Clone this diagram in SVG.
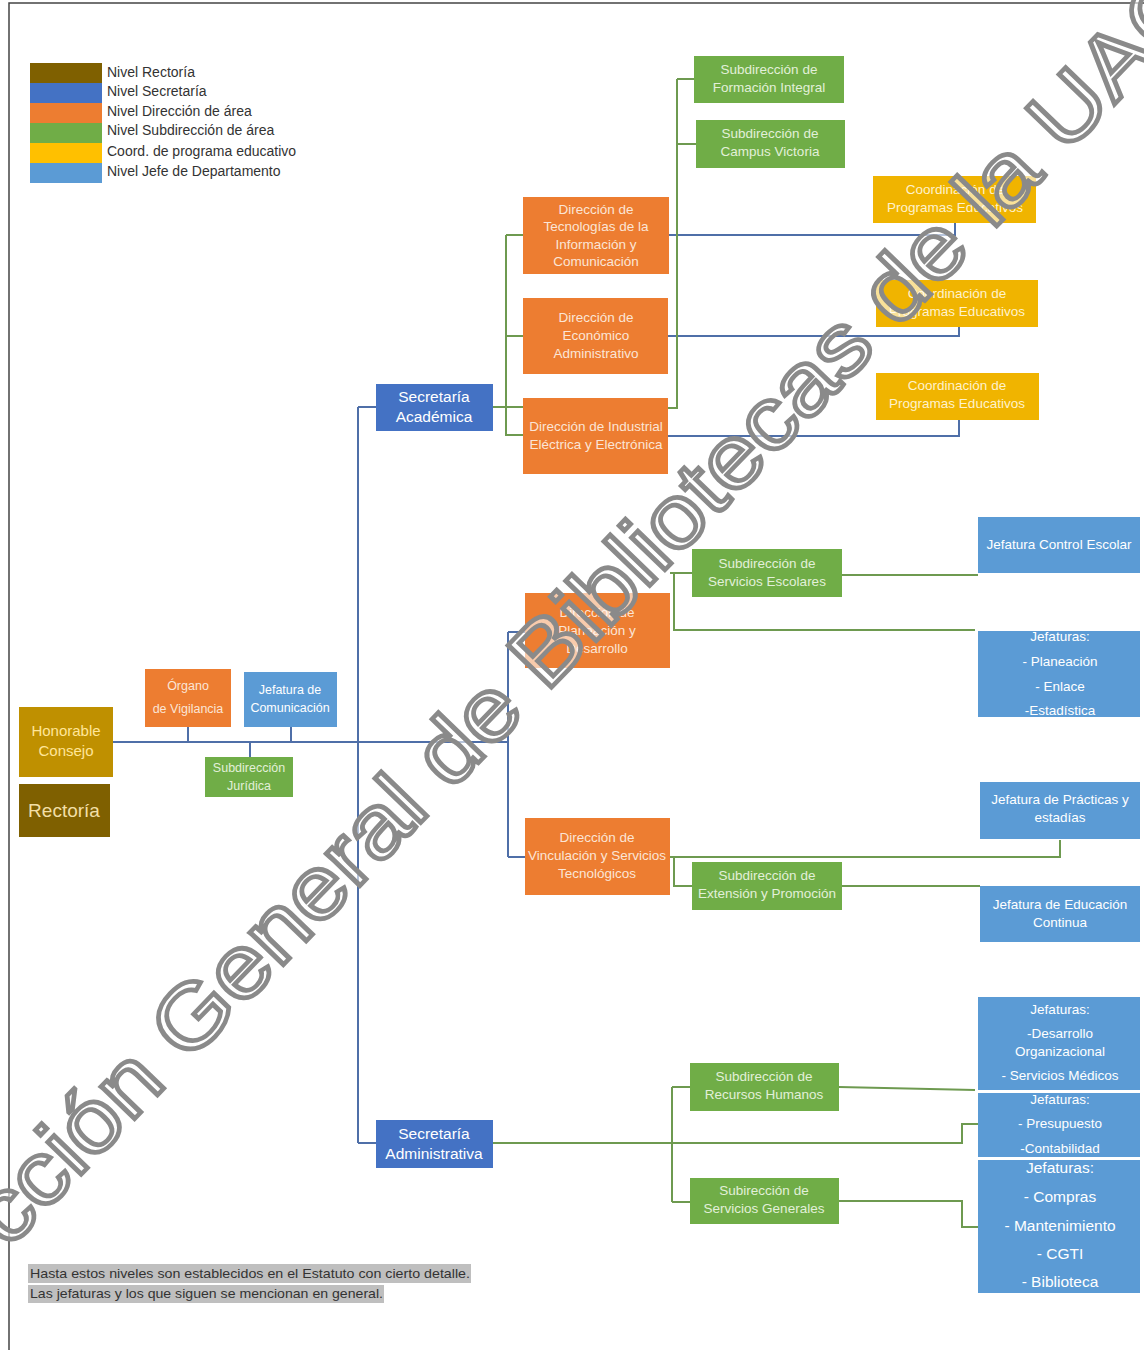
<svg xmlns="http://www.w3.org/2000/svg" width="1144" height="1350" viewBox="0 0 1144 1350">
<style>
text{font-family:"Liberation Sans",Arial,sans-serif;text-anchor:middle}
.t{font-size:13.5px}
.lg{font-size:14px;fill:#333;text-anchor:start}
.nt{font-size:13.5px;fill:#333;text-anchor:start}
.wd{fill:#FBE5D6}
.wg{fill:#E2F0D9}
.wy{fill:#FFF2CC}
.wb{fill:#FFFFFF}
.bl{fill:none;stroke:#4F6FA8;stroke-width:2}
.gl{fill:none;stroke:#6E9A50;stroke-width:2}
.dir{fill:#ED7D31}
.sub{fill:#70AD47}
.coo{fill:#F0B400}
.jef{fill:#5B9BD5}
.sec{fill:#4472C4}
</style>
<rect x="0" y="0" width="1144" height="1350" fill="#fff"/>
<path d="M9,1350 V3 H1144" fill="none" stroke="#444" stroke-width="1.5"/>

<g id="legend">
<rect x="30" y="63" width="72" height="20" fill="#7F6000"/>
<rect x="30" y="83" width="72" height="20" fill="#4472C4"/>
<rect x="30" y="103" width="72" height="20" fill="#ED7D31"/>
<rect x="30" y="123" width="72" height="20" fill="#70AD47"/>
<rect x="30" y="143" width="72" height="20" fill="#FFC000"/>
<rect x="30" y="163" width="72" height="20" fill="#5B9BD5"/>
<text class="lg" x="107" y="77">Nivel Rectoría</text>
<text class="lg" x="107" y="96">Nivel Secretaría</text>
<text class="lg" x="107" y="116">Nivel Dirección de área</text>
<text class="lg" x="107" y="135">Nivel Subdirección de área</text>
<text class="lg" x="107" y="156">Coord. de programa educativo</text>
<text class="lg" x="107" y="176">Nivel Jefe de Departamento</text>
</g>

<g id="connectors">
<path class="bl" d="M113,742 H508 M188,727 V742 M291,727 V742 M250,742 V757"/>
<path class="bl" d="M358,407 V1143 M358,407 H376 M358,1143 H376"/>
<path class="bl" d="M508,632 V857 M508,632 H525 M508,857 H525"/>
<path class="bl" d="M669,235 H955 V223 M668,336 H959 V327 M668,436 H959 V420"/>
<path class="gl" d="M506,235 V435 H523 M506,235 H523 M506,336 H523 M493,407 H523"/>
<path class="gl" d="M677,79 V408 H668 M677,79 H694 M677,144 H696"/>
<path class="gl" d="M670,573 H674 V630 H975 M674,573 H692 M842,575 H978"/>
<path class="gl" d="M670,857 H1060 V840 M674,857 V886 H692 M842,886 H980"/>
<path class="gl" d="M493,1143 H962 V1124 H978"/>
<path class="gl" d="M672,1087 V1202 M672,1087 H690 M672,1202 H690 M839,1087 L975,1090 M839,1201 H962 V1227 H978"/>
</g>

<g id="honorable-consejo"><rect x="19" y="707" width="94" height="70" fill="#BF9000"/>
<text x="66" y="736" font-size="15" fill="#FFE699">Honorable</text><text x="66" y="756" font-size="15" fill="#FFE699">Consejo</text></g>
<g id="rectoria"><rect x="19" y="784" width="91" height="53" fill="#7F6000"/>
<text x="64" y="817" font-size="19" fill="#F2DFA7">Rectoría</text></g>
<g id="organo-vigilancia"><rect class="dir" x="145" y="669" width="86" height="58"/>
<text class="wd" font-size="12.5" x="188" y="690">Órgano</text><text class="wd" font-size="12.5" x="188" y="713">de Vigilancia</text></g>
<g id="jefatura-comunicacion"><rect class="jef" x="244" y="672" width="93" height="55"/>
<text class="wb" font-size="12.5" x="290" y="694">Jefatura de</text><text class="wb" font-size="12.5" x="290" y="712">Comunicación</text></g>
<g id="subdireccion-juridica"><rect class="sub" x="205" y="757" width="88" height="40"/>
<text class="wg" font-size="12.5" x="249" y="772">Subdirección</text><text class="wg" font-size="12.5" x="249" y="790">Jurídica</text></g>

<g id="secretaria-academica"><rect class="sec" x="376" y="384" width="117" height="47"/>
<text x="434" y="402" font-size="15.5" fill="#fff">Secretaría</text><text x="434" y="422" font-size="15.5" fill="#fff">Académica</text></g>
<g id="secretaria-administrativa"><rect class="sec" x="376" y="1120" width="117" height="48"/>
<text x="434" y="1139" font-size="15.5" fill="#fff">Secretaría</text><text x="434" y="1159" font-size="15.5" fill="#fff">Administrativa</text></g>

<g id="direccion-tic"><rect class="dir" x="523" y="197" width="146" height="77"/>
<text class="t wd" x="596" y="214">Dirección de</text><text class="t wd" x="596" y="231">Tecnologías de la</text><text class="t wd" x="596" y="249">Información y</text><text class="t wd" x="596" y="266">Comunicación</text></g>
<g id="direccion-economico"><rect class="dir" x="523" y="298" width="145" height="76"/>
<text class="t wd" x="596" y="322">Dirección de</text><text class="t wd" x="596" y="340">Económico</text><text class="t wd" x="596" y="358">Administrativo</text></g>
<g id="direccion-industrial"><rect class="dir" x="523" y="398" width="145" height="76"/>
<text class="t wd" x="596" y="431">Dirección de Industrial</text><text class="t wd" x="596" y="449">Eléctrica y Electrónica</text></g>

<g id="sub-formacion"><rect class="sub" x="694" y="56" width="150" height="47"/>
<text class="t wg" x="769" y="74">Subdirección de</text><text class="t wg" x="769" y="92">Formación Integral</text></g>
<g id="sub-campus"><rect class="sub" x="696" y="120" width="149" height="48"/>
<text class="t wg" x="770" y="138">Subdirección de</text><text class="t wg" x="770" y="156">Campus Victoria</text></g>

<g id="coord-1"><rect class="coo" x="873" y="176" width="163" height="47"/>
<text class="t wy" x="955" y="194">Coordinación de</text><text class="t wy" x="955" y="212">Programas Educativos</text></g>
<g id="coord-2"><rect class="coo" x="876" y="280" width="162" height="47"/>
<text class="t wy" x="957" y="298">Coordinación de</text><text class="t wy" x="957" y="316">Programas Educativos</text></g>
<g id="coord-3"><rect class="coo" x="876" y="373" width="163" height="47"/>
<text class="t wy" x="957" y="390">Coordinación de</text><text class="t wy" x="957" y="408">Programas Educativos</text></g>

<g id="direccion-planeacion"><rect class="dir" x="525" y="593" width="145" height="75"/>
<text class="t wd" x="597" y="617">Dirección de</text><text class="t wd" x="597" y="635">Planeación y</text><text class="t wd" x="597" y="653">Desarrollo</text></g>
<g id="sub-servicios-escolares"><rect class="sub" x="692" y="549" width="150" height="48"/>
<text class="t wg" x="767" y="568">Subdirección de</text><text class="t wg" x="767" y="586">Servicios Escolares</text></g>
<g id="jef-control-escolar"><rect class="jef" x="978" y="517" width="162" height="56"/>
<text class="t wb" x="1059" y="549">Jefatura Control Escolar</text></g>
<g id="jef-planeacion"><rect class="jef" x="978" y="631" width="162" height="86"/>
<text class="t wb" x="1060" y="641">Jefaturas:</text><text class="t wb" x="1060" y="666">- Planeación</text><text class="t wb" x="1060" y="691">- Enlace</text><text class="t wb" x="1060" y="715">-Estadística</text></g>

<g id="direccion-vinculacion"><rect class="dir" x="525" y="818" width="145" height="77"/>
<text class="t wd" x="597" y="842">Dirección de</text><text class="t wd" x="597" y="860">Vinculación y Servicios</text><text class="t wd" x="597" y="878">Tecnológicos</text></g>
<g id="sub-extension"><rect class="sub" x="692" y="862" width="150" height="48"/>
<text class="t wg" x="767" y="880">Subdirección de</text><text class="t wg" x="767" y="898">Extensión y Promoción</text></g>
<g id="jef-practicas"><rect class="jef" x="980" y="782" width="160" height="57"/>
<text class="t wb" x="1060" y="804">Jefatura de Prácticas y</text><text class="t wb" x="1060" y="822">estadías</text></g>
<g id="jef-educacion-continua"><rect class="jef" x="980" y="886" width="160" height="56"/>
<text class="t wb" x="1060" y="909">Jefatura de Educación</text><text class="t wb" x="1060" y="927">Continua</text></g>

<g id="sub-recursos-humanos"><rect class="sub" x="690" y="1063" width="149" height="48"/>
<text class="t wg" x="764" y="1081">Subdirección de</text><text class="t wg" x="764" y="1099">Recursos Humanos</text></g>
<g id="sub-servicios-generales"><rect class="sub" x="690" y="1178" width="149" height="46"/>
<text class="t wg" x="764" y="1195">Subirección de</text><text class="t wg" x="764" y="1213">Servicios Generales</text></g>
<g id="jef-desarrollo"><rect class="jef" x="978" y="997" width="162" height="93"/>
<text class="t wb" x="1060" y="1014">Jefaturas:</text><text class="t wb" x="1060" y="1038">-Desarrollo</text><text class="t wb" x="1060" y="1056">Organizacional</text><text class="t wb" x="1060" y="1080">- Servicios Médicos</text></g>
<g id="jef-presupuesto"><rect class="jef" x="978" y="1093" width="162" height="64"/>
<text class="t wb" x="1060" y="1104">Jefaturas:</text><text class="t wb" x="1060" y="1128">- Presupuesto</text><text class="t wb" x="1060" y="1153">-Contabilidad</text></g>
<g id="jef-compras"><rect class="jef" x="978" y="1160" width="162" height="133"/>
<text x="1060" y="1173" font-size="15.5" fill="#fff">Jefaturas:</text><text x="1060" y="1202" font-size="15.5" fill="#fff">- Compras</text><text x="1060" y="1231" font-size="15.5" fill="#fff">- Mantenimiento</text><text x="1060" y="1259" font-size="15.5" fill="#fff">- CGTI</text><text x="1060" y="1287" font-size="15.5" fill="#fff">- Biblioteca</text></g>

<g id="note">
<rect x="28" y="1264" width="443" height="19" fill="#BFBFBF"/>
<rect x="28" y="1285" width="356" height="18" fill="#BFBFBF"/>
<text class="nt" x="30" y="1278" textLength="440" lengthAdjust="spacingAndGlyphs">Hasta estos niveles son establecidos en el Estatuto con cierto detalle.</text>
<text class="nt" x="30" y="1298" textLength="353" lengthAdjust="spacingAndGlyphs">Las jefaturas y los que siguen se mencionan en general.</text>
</g>

<g id="watermark">
<text transform="translate(8,1250) rotate(-46)" x="0" y="0" font-size="88" style="text-anchor:start" fill="#fff" fill-opacity="0.6" stroke="#8a8a8a" stroke-width="4.5" textLength="1730" lengthAdjust="spacingAndGlyphs">cción General de Bibliotecas de la UAC</text>
</g>
</svg>
